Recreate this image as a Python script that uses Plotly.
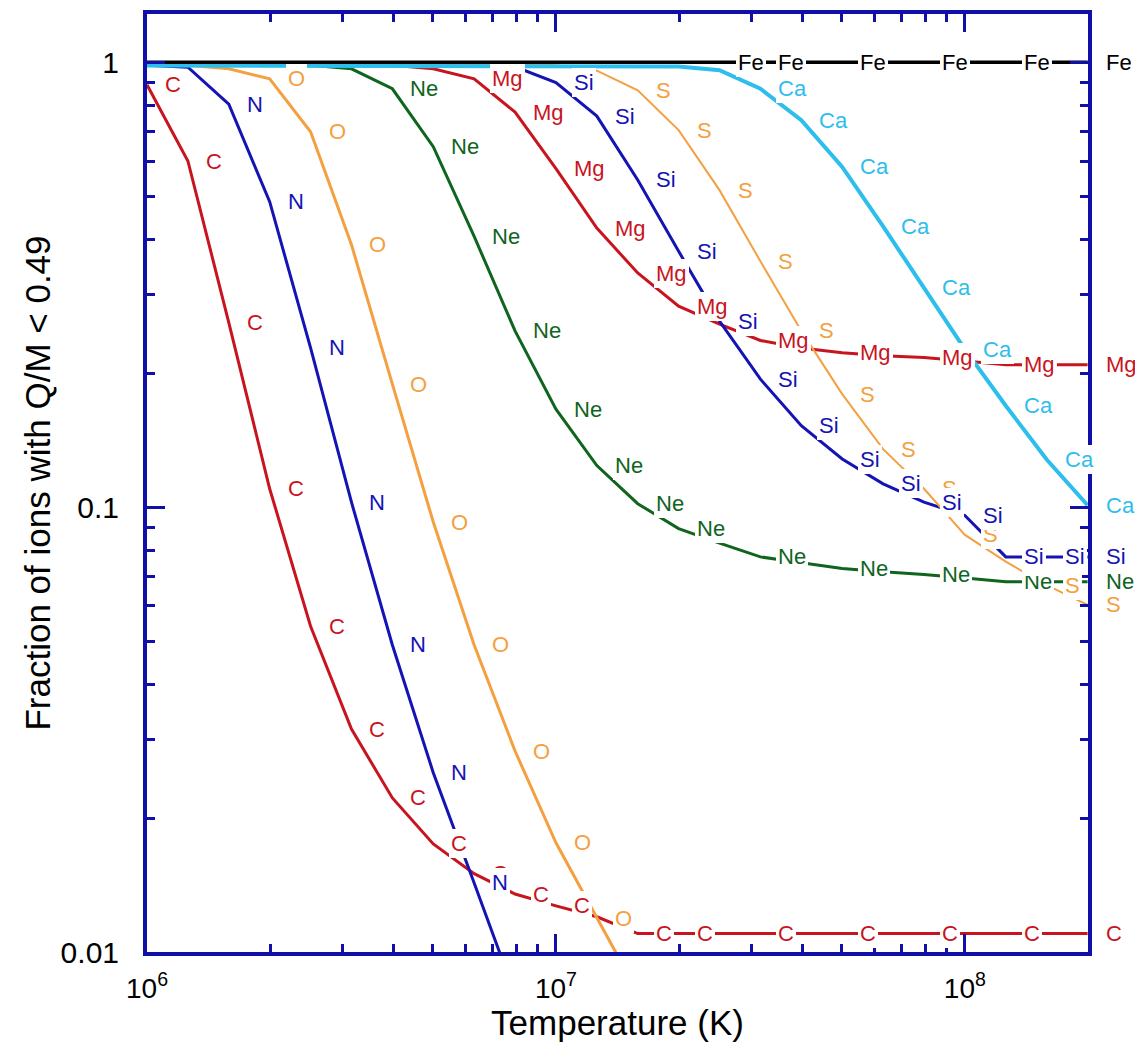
import math
import plotly.graph_objects as go

# log10 of temperature (K) grid
log_T = [6.0, 6.1, 6.2, 6.3, 6.4, 6.5, 6.6, 6.7, 6.8, 6.9, 7.0, 7.1,
         7.2, 7.3, 7.4, 7.5, 7.6, 7.7, 7.8, 7.9, 8.0, 8.1, 8.2, 8.3]
T = [10 ** v for v in log_T]

# Fraction of ions with Q/M < 0.49
frac_C = [0.89, 0.60, 0.26, 0.110, 0.054, 0.0317, 0.0222, 0.0175, 0.0150, 0.0135, 0.0127, 0.0120,
          0.0110, 0.0110, 0.0110, 0.0110, 0.0110, 0.0110, 0.0110, 0.0110, 0.0110, 0.0110, 0.0110, 0.0110]
frac_N = [0.985, 0.975, 0.805, 0.486, 0.228, 0.1026, 0.049, 0.0253, 0.0143, 0.0081, 0.0045, None,
          None, None, None, None, None, None, None, None, None, None, None, None]
frac_O = [0.99, 0.985, 0.967, 0.918, 0.698, 0.389, 0.189, 0.0926, 0.049, 0.0283, 0.0176, 0.0119,
          0.0080, 0.0055, None, None, None, None, None, None, None, None, None, None]
frac_Ne = [0.99, 0.99, 0.99, 0.99, 0.985, 0.967, 0.872, 0.646, 0.406, 0.249, 0.166, 0.124,
           0.1018, 0.0895, 0.083, 0.0773, 0.075, 0.0728, 0.0716, 0.0706, 0.0693, 0.068, 0.068, 0.068]
frac_Mg = [0.99, 0.99, 0.99, 0.99, 0.99, 0.99, 0.985, 0.967, 0.918, 0.773, 0.577, 0.424,
           0.336, 0.283, 0.258, 0.237, 0.228, 0.2225, 0.219, 0.217, 0.213, 0.209, 0.209, 0.209]
frac_Si = [0.99, 0.99, 0.99, 0.99, 0.99, 0.99, 0.99, 0.99, 0.99, 0.977, 0.90, 0.757,
           0.544, 0.376, 0.262, 0.194, 0.1525, 0.1283, 0.1128, 0.1026, 0.0958, 0.0773, 0.0773, 0.0773]
frac_S = [0.99, 0.99, 0.99, 0.99, 0.99, 0.99, 0.99, 0.99, 0.99, 0.99, 0.985, 0.958,
          0.865, 0.704, 0.516, 0.357, 0.249, 0.1795, 0.135, 0.110, 0.0866, 0.0754, 0.0668, 0.0603]
frac_Ca = [0.983, 0.983, 0.983, 0.983, 0.983, 0.983, 0.983, 0.983, 0.983, 0.983, 0.983, 0.983,
           0.981, 0.978, 0.96, 0.872, 0.741, 0.582, 0.4276, 0.311, 0.2263, 0.169, 0.128, 0.101]
frac_Fe = [1.0] * 24

# temperatures (log10) at which each curve carries its element label
lab_C = [6.0, 6.1, 6.2, 6.3, 6.4, 6.5, 6.6, 6.7, 6.8, 6.9, 7.0, 7.1, 7.2, 7.3, 7.5, 7.7, 7.9, 8.1, 8.3]
lab_N = [6.2, 6.3, 6.4, 6.5, 6.6, 6.7, 6.8]
lab_O = [6.3, 6.4, 6.5, 6.6, 6.7, 6.8, 6.9, 7.0, 7.1]
lab_Ne = [6.6, 6.7, 6.8, 6.9, 7.0, 7.1, 7.2, 7.3, 7.5, 7.7, 7.9, 8.1, 8.3]
lab_Mg = [6.8, 6.9, 7.0, 7.1, 7.2, 7.3, 7.5, 7.7, 7.9, 8.1, 8.3]
lab_Si = [7.0, 7.1, 7.2, 7.3, 7.4, 7.5, 7.6, 7.7, 7.8, 7.9, 8.0, 8.1, 8.2, 8.3]
lab_S = [7.2, 7.3, 7.4, 7.5, 7.6, 7.7, 7.8, 7.9, 8.0, 8.1, 8.2, 8.3]
lab_Ca = [7.5, 7.6, 7.7, 7.8, 7.9, 8.0, 8.1, 8.2, 8.3]
lab_Fe = [7.4, 7.5, 7.7, 7.9, 8.1, 8.3]

x_ticks = [1e6, 1e7, 1e8]
x_ticktext = ["10<sup>6</sup>", "10<sup>7</sup>", "10<sup>8</sup>"]
x_minor = [2e6, 3e6, 4e6, 5e6, 6e6, 7e6, 8e6, 9e6,
           2e7, 3e7, 4e7, 5e7, 6e7, 7e7, 8e7, 9e7, 2e8]
y_ticks = [0.01, 0.1, 1]
y_ticktext = ["0.01", "0.1", "1"]
y_minor = [0.02, 0.03, 0.04, 0.05, 0.06, 0.07, 0.08, 0.09,
           0.2, 0.3, 0.4, 0.5, 0.6, 0.7, 0.8, 0.9]

RED = "#C8141E"
BLUE = "#1414B4"
ORANGE = "#F4A040"
GREEN = "#0F641E"
CYAN = "#2DBEEB"
BLACK = "#000000"
AXIS = "#1010A8"
FONT = "Arial, Liberation Sans, sans-serif"

# values, label temps, colour, line width
series = {
    "C": (frac_C, lab_C, RED, 3),
    "N": (frac_N, lab_N, BLUE, 3),
    "O": (frac_O, lab_O, ORANGE, 3),
    "Ne": (frac_Ne, lab_Ne, GREEN, 3),
    "Mg": (frac_Mg, lab_Mg, RED, 3),
    "Si": (frac_Si, lab_Si, BLUE, 3),
    "S": (frac_S, lab_S, ORANGE, 2),
    "Ca": (frac_Ca, lab_Ca, CYAN, 4),
    "Fe": (frac_Fe, lab_Fe, BLACK, 3.5),
}
line_order = ["C", "N", "O", "Ne", "Mg", "Si", "S", "Ca", "Fe"]
label_order = ["C", "N", "O", "Ne", "Mg", "S", "Si", "Ca", "Fe"]

fig = go.Figure()
for name in line_order:
    vals, labs, color, width = series[name]
    fig.add_trace(go.Scatter(
        x=T, y=vals, mode="lines", name=name,
        line=dict(color=color, width=width),
        connectgaps=False, hoverinfo="skip", showlegend=False,
    ))

for name in label_order:
    vals, labs, color, width = series[name]
    for lt in labs:
        i = log_T.index(lt)
        fig.add_annotation(
            x=log_T[i], y=math.log10(vals[i]), xref="x", yref="y",
            text=name, showarrow=False, xanchor="left", yanchor="middle",
            xshift=16, bgcolor="white", borderpad=2, borderwidth=0,
            font=dict(family=FONT, size=22, color=color),
        )

axis_common = dict(
    type="log", showline=True, linecolor=AXIS, linewidth=4, mirror="allticks",
    ticks="inside", ticklen=18, tickwidth=3, tickcolor=AXIS,
    showgrid=False, zeroline=False,
)

fig.update_xaxes(
    **axis_common,
    range=[6, math.log10(2e8)],
    tickmode="array", tickvals=x_ticks, ticktext=x_ticktext,
    tickfont=dict(family=FONT, size=28, color="black"),
    ticklabelstandoff=8,
    minor=dict(tickmode="array", tickvals=x_minor, ticks="inside", ticklen=8,
               tickwidth=3, tickcolor=AXIS, showgrid=False),
    title=dict(text="Temperature (K)", font=dict(family=FONT, size=35, color="black"), standoff=2),
)
fig.update_yaxes(
    **axis_common,
    range=[-2, 0.1086],
    tickmode="array", tickvals=y_ticks, ticktext=y_ticktext,
    tickfont=dict(family=FONT, size=30, color="black"),
    ticklabelstandoff=18,
    minor=dict(tickmode="array", tickvals=y_minor, ticks="inside", ticklen=8,
               tickwidth=3, tickcolor=AXIS, showgrid=False),
    title=dict(text="Fraction of ions with Q/M < 0.49",
               font=dict(family=FONT, size=35, color="black"), standoff=0),
)

fig.update_layout(
    width=1135, height=1034,
    margin=dict(l=139, r=55, t=2, b=90),
    paper_bgcolor="white", plot_bgcolor="white",
    showlegend=False,
)

fig.write_html("out.html")
